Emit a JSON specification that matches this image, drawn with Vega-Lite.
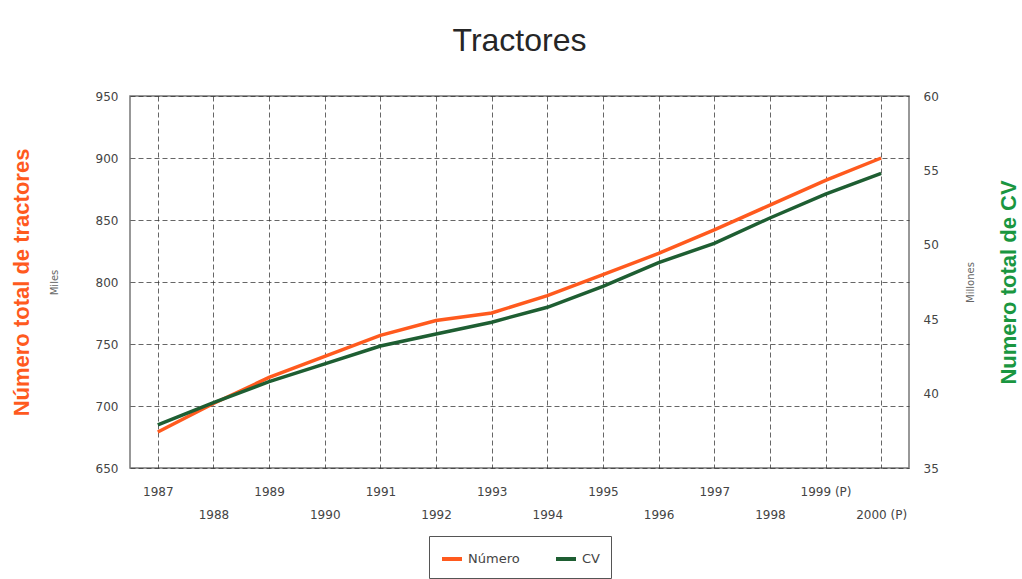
{
  "$schema": "https://vega.github.io/schema/vega-lite/v6.json",
  "width": 779,
  "height": 372,
  "padding": {"left": 10, "top": 25, "right": 5, "bottom": 0},
  "background": "white",
  "title": {
    "text": "Tractores",
    "font": "Liberation Sans",
    "fontSize": 32,
    "fontWeight": "normal",
    "color": "#262626",
    "anchor": "middle",
    "offset": 32
  },
  "data": {
    "values": [
      {"year": "1987", "numero": 679, "cv": 37.9},
      {"year": "1988", "numero": 702, "cv": 39.4},
      {"year": "1989", "numero": 723, "cv": 40.8},
      {"year": "1990", "numero": 740, "cv": 42.0},
      {"year": "1991", "numero": 757, "cv": 43.2},
      {"year": "1992", "numero": 769, "cv": 44.0},
      {"year": "1993", "numero": 775, "cv": 44.8},
      {"year": "1994", "numero": 789, "cv": 45.8},
      {"year": "1995", "numero": 806, "cv": 47.2},
      {"year": "1996", "numero": 823, "cv": 48.8},
      {"year": "1997", "numero": 842, "cv": 50.1},
      {"year": "1998", "numero": 862, "cv": 51.8},
      {"year": "1999 (P)", "numero": 882, "cv": 53.4},
      {"year": "2000 (P)", "numero": 900, "cv": 54.8}
    ]
  },
  "encoding": {
    "x": {
      "field": "year",
      "type": "ordinal",
      "sort": null,
      "scale": {"type": "point", "padding": 0.5},
      "axis": {
        "title": null,
        "labelAngle": 0,
        "labelFont": "DejaVu Sans",
        "labelFontSize": 12,
        "labelColor": "#444",
        "labelPadding": 18,
        "labelLineHeight": 23,
        "labelBaseline": "top",
        "labelExpr": "toNumber(slice(datum.value,0,4)) % 2 == 1 ? datum.value : ['', datum.value]",
        "ticks": false,
        "domain": false,
        "grid": true,
        "gridColor": "#333",
        "gridDash": [5, 3],
        "gridOpacity": 0.75,
        "labelOverlap": false
      }
    }
  },
  "layer": [
    {
      "mark": {"type": "line", "strokeWidth": 3.5},
      "encoding": {
        "y": {
          "field": "numero",
          "type": "quantitative",
          "scale": {"domain": [650, 950], "nice": false, "zero": false},
          "axis": {
            "orient": "left",
            "values": [650, 700, 750, 800, 850, 900, 950],
            "grid": true,
            "gridColor": "#333",
            "gridDash": [5, 3],
            "gridOpacity": 0.75,
            "ticks": false,
            "domain": false,
            "labelFont": "DejaVu Sans",
            "labelFontSize": 12,
            "labelColor": "#444",
            "labelPadding": 12,
            "title": "Miles",
            "titleFont": "DejaVu Sans",
            "titleFontSize": 10,
            "titleFontWeight": "normal",
            "titleColor": "#666",
            "titlePadding": 36
          }
        },
        "color": {
          "datum": "Número",
          "type": "nominal",
          "scale": {"domain": ["Número", "CV"], "range": ["#FF5A1E", "#1E5E32"]},
          "legend": {
            "title": null,
            "orient": "bottom",
            "direction": "horizontal",
            "columns": 2,
            "gridAlign": "all",
            "symbolType": "stroke",
            "symbolStrokeWidth": 4,
            "symbolSize": 400,
            "labelFont": "DejaVu Sans",
            "labelFontSize": 13,
            "labelColor": "#444",
            "strokeColor": "#555",
            "padding": 11,
            "columnPadding": 28,
            "offset": 16
          }
        }
      }
    },
    {
      "mark": {"type": "line", "strokeWidth": 3.5},
      "encoding": {
        "y": {
          "field": "cv",
          "type": "quantitative",
          "scale": {"domain": [35, 60], "nice": false, "zero": false},
          "axis": {
            "orient": "right",
            "values": [35, 40, 45, 50, 55, 60],
            "grid": false,
            "ticks": false,
            "domain": false,
            "labelFont": "DejaVu Sans",
            "labelFontSize": 12,
            "labelColor": "#444",
            "labelPadding": 14,
            "title": "Millones",
            "titleAngle": 270,
            "titleBaseline": "top",
            "titleFont": "DejaVu Sans",
            "titleFontSize": 10,
            "titleFontWeight": "normal",
            "titleColor": "#666",
            "titlePadding": 27
          }
        },
        "color": {"datum": "CV", "type": "nominal"}
      }
    },
    {
      "mark": {"type": "line", "opacity": 0},
      "encoding": {
        "y": {
          "field": "numero",
          "type": "quantitative",
          "scale": {"domain": [650, 950], "nice": false, "zero": false},
          "axis": {
            "orient": "left",
            "labels": false,
            "ticks": false,
            "domain": false,
            "grid": false,
            "title": "Número total de tractores",
            "titleFont": "Liberation Sans",
            "titleFontSize": 22,
            "titleFontWeight": "bold",
            "titleColor": "#FF5A1E",
            "titlePadding": 97
          }
        }
      }
    },
    {
      "mark": {"type": "line", "opacity": 0},
      "encoding": {
        "y": {
          "field": "cv",
          "type": "quantitative",
          "scale": {"domain": [35, 60], "nice": false, "zero": false},
          "axis": {
            "orient": "right",
            "labels": false,
            "ticks": false,
            "domain": false,
            "grid": false,
            "title": "Numero total de CV",
            "titleAngle": 270,
            "titleBaseline": "top",
            "titleFont": "Liberation Sans",
            "titleFontSize": 22,
            "titleFontWeight": "bold",
            "titleColor": "#1A9640",
            "titlePadding": 89
          }
        }
      }
    }
  ],
  "resolve": {"scale": {"y": "independent"}},
  "config": {
    "view": {"stroke": "#777", "strokeWidth": 1.5},
    "legend": {"layout": {"bottom": {"anchor": "middle"}}}
  }
}
